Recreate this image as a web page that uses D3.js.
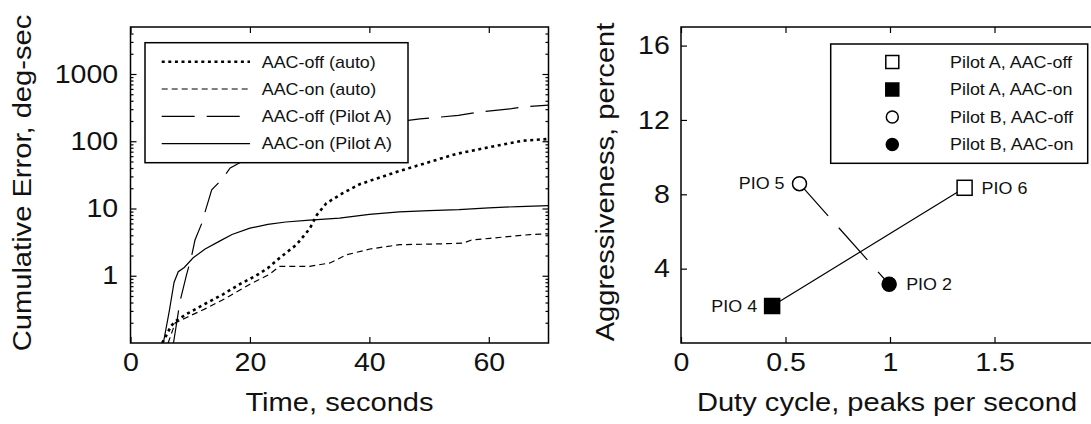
<!DOCTYPE html>
<html>
<head>
<meta charset="utf-8">
<script src="https://cdn.jsdelivr.net/npm/d3@7"></script>
<style>
body { margin: 0; background: #fff; }
text { font-family: "Liberation Sans", Arial, sans-serif; fill: #111; }
</style>
</head>
<body>
<svg id="chart" width="1091" height="424"></svg>
<script>
// ---- data ----
// left panel: cumulative error (deg-sec) vs time (s), [time, error]
var aacOffAuto = [[5.3,0.1],[6.0,0.13],[6.8,0.18],[7.5,0.21],[9.4,0.27],[12.2,0.37],[15.5,0.53],[18.3,0.75],
  [21,1.0],[23,1.3],[25,1.85],[27.8,2.9],[30,5.0],[31.2,8.0],[32.8,12],[35.6,17],[38.4,23],[41.8,29],
  [45,36],[49,46],[54.6,65],[60.2,82],[65.7,102],[70,108]];
var aacOnAuto = [[6.3,0.1],[7.0,0.15],[7.5,0.2],[9.4,0.24],[12.75,0.33],[16.1,0.47],[20,0.75],[23.1,1.03],
  [25,1.38],[30,1.38],[33.4,1.55],[36.2,2.05],[40.1,2.5],[45.1,2.9],[50,2.95],[55.7,3.05],[57.1,3.4],
  [60.2,3.6],[66.9,4.1],[70,4.2]];
var aacOffPilotA = [[7.2,0.1],[8.3,0.42],[9.4,1.05],[10.2,1.9],[10.8,3.4],[11.9,5.9],[12.5,9],[13.6,19],
  [15.3,27],[16.7,40],[18.3,48],[22,65],[28,95],[34,130],[40,165],[46.5,205],[48.5,215],[51.2,226],
  [54.9,243],[58.5,272],[63.8,305],[65.7,325],[70,345]];
var aacOnPilotA = [[5.5,0.1],[6.5,0.3],[7.3,0.8],[8,1.15],[9,1.33],[10.5,1.85],[12.5,2.5],[15,3.3],[17,4.1],
  [20,5.1],[23,5.8],[26,6.3],[30,6.7],[35,7.2],[40,8.2],[45,8.9],[50,9.3],[55,9.6],[60,10.2],[65,10.7],[70,11]];
var leftNames = ["AAC-off (auto)", "AAC-on (auto)", "AAC-off (Pilot A)", "AAC-on (Pilot A)"];
var timeTicks = [0, 20, 40, 60];
var errorTicks = [1, 10, 100, 1000];

// right panel: one point per run
var runLabels = ["PIO 6", "PIO 4", "PIO 5", "PIO 2"];
var dutyCycle = [1.357, 0.436, 0.567, 0.996];
var aggressiveness = [8.35, 1.99, 8.57, 3.16];
var rightNames = ["Pilot A, AAC-off", "Pilot A, AAC-on", "Pilot B, AAC-off", "Pilot B, AAC-on"];
var dutyTicks = [0, 0.5, 1, 1.5];
var aggTicks = [4, 8, 12, 16];

// ---- layout ----
var svg = d3.select("#chart");
var plotTop = 27, plotBottom = 343;
var wide = 1.12; // the original font is a bit wider than Arial

function styleAxis(g, size) {
  g.select(".domain").remove();
  g.selectAll(".tick line").attr("stroke", "#000").attr("stroke-width", 1.2);
  g.selectAll(".tick text").style("font-size", size + "px").attr("fill", "#111")
    .attr("transform", "scale(" + wide + ",1)");
}

function addText(g, x, y, str, size, anchor, rot) {
  return g.append("text")
    .attr("transform", "translate(" + x + "," + y + ")" + (rot ? " rotate(" + rot + ")" : "") +
      " scale(" + wide + ",1)")
    .attr("text-anchor", anchor || "start")
    .style("font-size", size + "px").text(str);
}

// ================= left panel =================
var x1 = d3.scaleLinear().domain([0, 70]).range([130.5, 548.5]);
var y1 = d3.scaleLog().domain([0.1, 5000]).range([plotBottom, plotTop]);

var minor = [];
[0.1, 1, 10, 100, 1000].forEach(function (dec) {
  for (var k = 2; k <= 9; k++) if (k * dec < 5000) minor.push(k * dec);
});

var left = svg.append("g");

left.append("defs").append("clipPath").attr("id", "clipL")
  .append("rect").attr("x", x1(0)).attr("y", plotTop)
  .attr("width", x1(70) - x1(0)).attr("height", plotBottom - plotTop);

var line1 = d3.line().x(function (d) { return x1(d[0]); }).y(function (d) { return y1(d[1]); });

var leftSeries = [
  { data: aacOffAuto, width: 2.6, dash: "3,3.6" },
  { data: aacOnAuto, width: 1.2, dash: "6,4" },
  { data: aacOffPilotA, width: 1.2, dash: "33,12" },
  { data: aacOnPilotA, width: 1.2, dash: null }
];

left.append("g").attr("clip-path", "url(#clipL)")
  .selectAll("path").data(leftSeries).enter().append("path")
  .attr("d", function (s) { return line1(s.data); })
  .attr("fill", "none").attr("stroke", "#000")
  .attr("stroke-width", function (s) { return s.width; })
  .attr("stroke-dasharray", function (s) { return s.dash; });

// axes, ticks pointing inward on all four sides
left.append("g").attr("transform", "translate(0," + plotBottom + ")")
  .call(d3.axisBottom(x1).tickValues(timeTicks).tickSizeInner(-6).tickSizeOuter(0).tickPadding(10)
    .tickFormat(d3.format("d")))
  .call(styleAxis, 25.5);
left.append("g").attr("transform", "translate(0," + plotTop + ")")
  .call(d3.axisTop(x1).tickValues(timeTicks).tickSizeInner(-6).tickSizeOuter(0).tickFormat(""))
  .call(styleAxis, 25.5);
left.append("g").attr("transform", "translate(" + x1(0) + ",0)")
  .call(d3.axisLeft(y1).tickValues(errorTicks).tickSizeInner(-6).tickSizeOuter(0).tickPadding(11)
    .tickFormat(d3.format("d")))
  .call(styleAxis, 25.5);
left.append("g").attr("transform", "translate(" + x1(0) + ",0)")
  .call(d3.axisLeft(y1).tickValues(minor).tickSizeInner(-3).tickSizeOuter(0).tickFormat(""))
  .call(styleAxis, 25.5);
left.append("g").attr("transform", "translate(" + x1(70) + ",0)")
  .call(d3.axisRight(y1).tickValues(errorTicks).tickSizeInner(-6).tickSizeOuter(0).tickFormat(""))
  .call(styleAxis, 25.5);
left.append("g").attr("transform", "translate(" + x1(70) + ",0)")
  .call(d3.axisRight(y1).tickValues(minor).tickSizeInner(-3).tickSizeOuter(0).tickFormat(""))
  .call(styleAxis, 25.5);

left.append("rect").attr("x", x1(0)).attr("y", plotTop)
  .attr("width", x1(70) - x1(0)).attr("height", plotBottom - plotTop)
  .attr("fill", "none").attr("stroke", "#000").attr("stroke-width", 1.5);

// legend
var legL = left.append("g").attr("transform", "translate(145,42.7)");
legL.append("rect").attr("width", 263).attr("height", 120)
  .attr("fill", "#fff").attr("stroke", "#000").attr("stroke-width", 1.5);
leftSeries.forEach(function (s, i) {
  var yy = 19 + i * 27.3;
  legL.append("line").attr("x1", 16.7).attr("x2", 105).attr("y1", yy).attr("y2", yy)
    .attr("stroke", "#000").attr("stroke-width", s.width).attr("stroke-dasharray", s.dash);
  addText(legL, 116.7, yy + 5.8, leftNames[i], 16);
});

addText(left, (x1(0) + x1(70)) / 2, 411, "Time, seconds", 26, "middle");
addText(left, 31, 183, "Cumulative Error, deg-sec", 26, "middle", -90);

// ================= right panel =================
var x2 = d3.scaleLinear().domain([0, 2]).range([681, 1099]);
var y2 = d3.scaleLinear().domain([0, 17]).range([plotBottom, plotTop]);

var right = svg.append("g");

right.append("g").attr("transform", "translate(0," + plotBottom + ")")
  .call(d3.axisBottom(x2).tickValues(dutyTicks).tickSizeInner(-6).tickSizeOuter(0).tickPadding(10)
    .tickFormat(function (d) { return String(d); }))
  .call(styleAxis, 25.5);
right.append("g").attr("transform", "translate(0," + plotTop + ")")
  .call(d3.axisTop(x2).tickValues(dutyTicks).tickSizeInner(-6).tickSizeOuter(0).tickFormat(""))
  .call(styleAxis, 25.5);
right.append("g").attr("transform", "translate(" + x2(0) + ",0)")
  .call(d3.axisLeft(y2).tickValues(aggTicks).tickSizeInner(-6).tickSizeOuter(0).tickPadding(10))
  .call(styleAxis, 25.5);

right.append("rect").attr("x", x2(0)).attr("y", plotTop)
  .attr("width", x2(2) - x2(0)).attr("height", plotBottom - plotTop)
  .attr("fill", "none").attr("stroke", "#000").attr("stroke-width", 1.5);

var pts = runLabels.map(function (lab, i) {
  return { label: lab, x: dutyCycle[i], y: aggressiveness[i], name: rightNames[i] };
});
// pairs joined by a line: Pilot A (off->on) solid, Pilot B (off->on) dashed
var line2 = d3.line().x(function (d) { return x2(d.x); }).y(function (d) { return y2(d.y); });
right.append("path").attr("d", line2([pts[1], pts[0]]))
  .attr("fill", "none").attr("stroke", "#000").attr("stroke-width", 1.2);
right.append("path").attr("d", line2([pts[2], pts[3]]))
  .attr("fill", "none").attr("stroke", "#000").attr("stroke-width", 1.2)
  .attr("stroke-dasharray", "43,16");

var markerFill = ["#fff", "#000", "#fff", "#000"];
var markerSquare = [true, true, false, false];

function drawMarker(g, cx, cy, i, s) {
  if (markerSquare[i]) {
    g.append("rect").attr("x", cx - s / 2).attr("y", cy - s / 2).attr("width", s).attr("height", s)
      .attr("fill", markerFill[i]).attr("stroke", "#000").attr("stroke-width", 1.5);
  } else {
    g.append("circle").attr("cx", cx).attr("cy", cy).attr("r", s / 2 - 0.5)
      .attr("fill", markerFill[i]).attr("stroke", "#000").attr("stroke-width", 1.5);
  }
}

pts.forEach(function (p, i) { drawMarker(right, x2(p.x), y2(p.y), i, 15); });

// run labels: PIO 6 and PIO 2 sit to the right, the others to the left
var labelRight = [true, false, false, true];
pts.forEach(function (p, i) {
  addText(right, x2(p.x) + (labelRight[i] ? 17 : -15), y2(p.y) + 5.8, p.label, 16,
    labelRight[i] ? "start" : "end");
});

// legend
var legR = right.append("g").attr("transform", "translate(830.7,44)");
legR.append("rect").attr("width", 257).attr("height", 119.3)
  .attr("fill", "#fff").attr("stroke", "#000").attr("stroke-width", 1.5);
rightNames.forEach(function (n, i) {
  var yy = 18 + i * 27.5;
  drawMarker(legR, 61.6, yy, i, 13);
  addText(legR, 119.3, yy + 5.8, n, 16);
});

addText(right, 887, 411, "Duty cycle, peaks per second", 26, "middle");
addText(right, 614, 182, "Aggressiveness, percent", 26, "middle", -90);
</script>
</body>
</html>
